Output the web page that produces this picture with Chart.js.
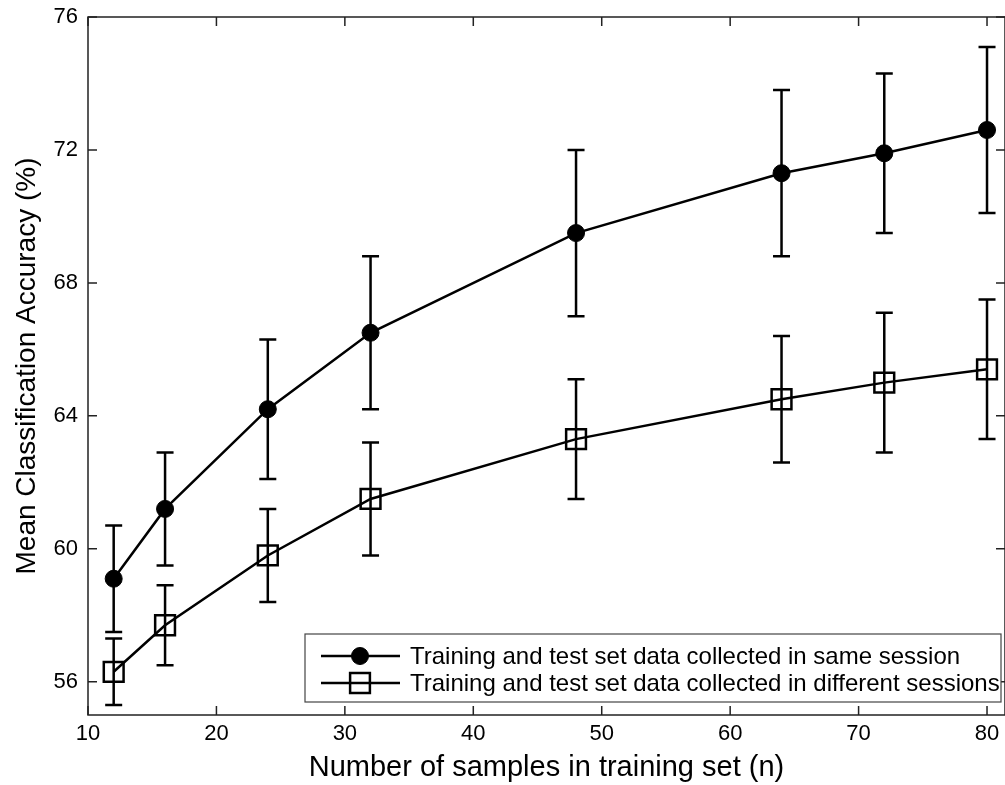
<!DOCTYPE html>
<html lang="en">
<head>
    <meta charset="UTF-8">
    <title>Mean Classification Accuracy vs Training Set Size</title>
    <script src="https://cdn.jsdelivr.net/npm/chart.js"></script>
    <style>
        body {
            margin: 0;
            background-color: #ffffff;
        }
        #chartBox {
            width: 1005px;
            height: 785px;
        }
    </style>
</head>
<body>

<div id="chartBox">
    <canvas id="accuracyChart" width="1005" height="785"></canvas>
</div>

<script>
    // samples in training set (n)
    const sampleSizes = [12, 16, 24, 32, 48, 64, 72, 80];

    // same session: mean, lower and upper error bar
    const sameSession = [59.1, 61.2, 64.2, 66.5, 69.5, 71.3, 71.9, 72.6];
    const sameLow = [57.5, 59.5, 62.1, 64.2, 67.0, 68.8, 69.5, 70.1];
    const sameHigh = [60.7, 62.9, 66.3, 68.8, 72.0, 73.8, 74.3, 75.1];

    // different sessions: mean, lower and upper error bar
    const diffSession = [56.3, 57.7, 59.8, 61.5, 63.3, 64.5, 65.0, 65.4];
    const diffLow = [55.3, 56.5, 58.4, 59.8, 61.5, 62.6, 62.9, 63.3];
    const diffHigh = [57.3, 58.9, 61.2, 63.2, 65.1, 66.4, 67.1, 67.5];

    const seriesLabels = [
        'Training and test set data collected in same session',
        'Training and test set data collected in different sessions'
    ];

    const FONT = "'Liberation Sans', Arial, Helvetica, sans-serif";

    function toPoints(values) {
        return sampleSizes.map((n, i) => ({ x: n, y: values[i] }));
    }

    // vertical error bars with caps
    const errorBars = {
        id: 'errorBars',
        afterDatasetsDraw(chart) {
            const { ctx, scales: { x, y } } = chart;
            const ranges = [[sameLow, sameHigh], [diffLow, diffHigh]];
            ctx.save();
            ctx.strokeStyle = '#000';
            ctx.lineWidth = 2.5;
            ranges.forEach(([low, high]) => {
                sampleSizes.forEach((n, i) => {
                    const px = x.getPixelForValue(n);
                    const top = y.getPixelForValue(high[i]);
                    const bot = y.getPixelForValue(low[i]);
                    ctx.beginPath();
                    ctx.moveTo(px, top);
                    ctx.lineTo(px, bot);
                    ctx.moveTo(px - 8.5, top);
                    ctx.lineTo(px + 8.5, top);
                    ctx.moveTo(px - 8.5, bot);
                    ctx.lineTo(px + 8.5, bot);
                    ctx.stroke();
                });
            });
            ctx.restore();
        }
    };

    // matlab style box with inward ticks
    const axisFrame = {
        id: 'axisFrame',
        afterDraw(chart) {
            const { ctx, chartArea: a, scales: { x, y } } = chart;
            ctx.save();
            ctx.strokeStyle = '#222';
            ctx.lineWidth = 1.5;
            ctx.strokeRect(a.left, a.top, a.right - a.left, a.bottom - a.top);
            ctx.beginPath();
            x.ticks.forEach(t => {
                const px = x.getPixelForValue(t.value);
                ctx.moveTo(px, a.bottom);
                ctx.lineTo(px, a.bottom - 9);
                ctx.moveTo(px, a.top);
                ctx.lineTo(px, a.top + 9);
            });
            y.ticks.forEach(t => {
                const py = y.getPixelForValue(t.value);
                ctx.moveTo(a.left, py);
                ctx.lineTo(a.left + 9, py);
                ctx.moveTo(a.right, py);
                ctx.lineTo(a.right - 9, py);
            });
            ctx.stroke();
            ctx.restore();
        }
    };

    // legend box in the lower right corner
    const cornerLegend = {
        id: 'cornerLegend',
        afterDraw(chart) {
            const { ctx } = chart;
            const box = { left: 305, top: 634, right: 1001, bottom: 702 };
            ctx.save();
            ctx.fillStyle = '#fff';
            ctx.fillRect(box.left, box.top, box.right - box.left, box.bottom - box.top);
            ctx.strokeStyle = '#444';
            ctx.lineWidth = 1.2;
            ctx.strokeRect(box.left, box.top, box.right - box.left, box.bottom - box.top);

            const rows = [656, 683];
            chart.data.datasets.forEach((ds, i) => {
                const ry = rows[i];
                ctx.strokeStyle = '#000';
                ctx.lineWidth = 2.5;
                ctx.beginPath();
                ctx.moveTo(321, ry);
                ctx.lineTo(400, ry);
                ctx.stroke();
                ctx.fillStyle = ds.pointBackgroundColor;
                ctx.lineWidth = ds.pointBorderWidth;
                Chart.helpers.drawPoint(ctx, {
                    pointStyle: ds.pointStyle,
                    radius: ds.pointRadius,
                    borderWidth: ds.pointBorderWidth
                }, 360, ry);
                ctx.fillStyle = '#000';
                ctx.font = '24px ' + FONT;
                ctx.textBaseline = 'middle';
                ctx.fillText(ds.label, 410, ry + 1);
            });
            ctx.restore();
        }
    };

    const ctx = document.getElementById('accuracyChart').getContext('2d');
    new Chart(ctx, {
        type: 'line',
        data: {
            datasets: [
                {
                    label: seriesLabels[0],
                    data: toPoints(sameSession),
                    borderColor: '#000',
                    borderWidth: 2.5,
                    pointStyle: 'circle',
                    pointRadius: 8.5,
                    pointBorderWidth: 1,
                    pointBackgroundColor: '#000',
                    pointBorderColor: '#000',
                    tension: 0,
                    fill: false
                },
                {
                    label: seriesLabels[1],
                    data: toPoints(diffSession),
                    borderColor: '#000',
                    borderWidth: 2.5,
                    pointStyle: 'rect',
                    pointRadius: 14,
                    pointBorderWidth: 2.5,
                    pointBackgroundColor: 'rgba(0,0,0,0)',
                    pointBorderColor: '#000',
                    tension: 0,
                    fill: false
                }
            ]
        },
        options: {
            responsive: false,
            animation: false,
            clip: false,
            layout: {
                autoPadding: false,
                padding: { top: 17, right: 0, left: 0, bottom: 0 }
            },
            plugins: {
                legend: { display: false },
                tooltip: { enabled: false }
            },
            scales: {
                x: {
                    type: 'linear',
                    min: 10,
                    max: 81.4,
                    afterFit: s => {
                        s.height = 70;
                        s.paddingLeft = 0;
                        s.paddingRight = 0;
                    },
                    grid: { display: false, drawTicks: false, tickLength: 0 },
                    border: { display: false },
                    ticks: {
                        stepSize: 10,
                        includeBounds: false,
                        padding: 6,
                        color: '#000',
                        font: { family: FONT, size: 22 }
                    },
                    title: {
                        display: true,
                        text: 'Number of samples in training set (n)',
                        color: '#000',
                        padding: { top: 0, bottom: 0 },
                        font: { family: FONT, size: 29 }
                    }
                },
                y: {
                    min: 55,
                    max: 76,
                    afterFit: s => {
                        s.width = 88;
                        s.paddingTop = 0;
                        s.paddingBottom = 0;
                    },
                    grid: { display: false, drawTicks: false, tickLength: 0 },
                    border: { display: false },
                    ticks: {
                        stepSize: 4,
                        includeBounds: false,
                        padding: 10,
                        color: '#000',
                        font: { family: FONT, size: 22 }
                    },
                    title: {
                        display: true,
                        text: 'Mean Classification Accuracy (%)',
                        color: '#000',
                        padding: { top: 10, bottom: 0 },
                        font: { family: FONT, size: 28 }
                    }
                }
            }
        },
        plugins: [errorBars, axisFrame, cornerLegend]
    });
</script>
</body>
</html>
